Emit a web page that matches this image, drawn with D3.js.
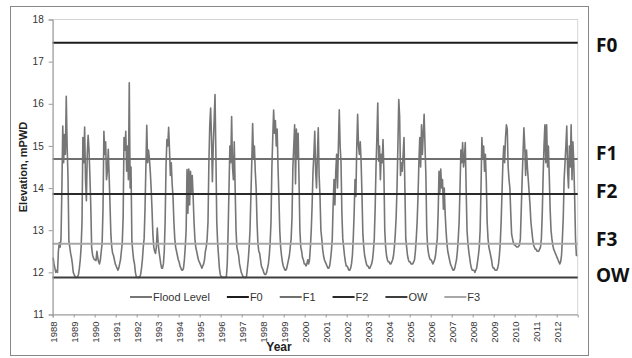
<!DOCTYPE html>
<html>
<head>
<meta charset="utf-8">
<script src="https://cdn.jsdelivr.net/npm/d3@7"></script>
<style>
  body { margin: 0; background: #fff; }
  svg { display: block; font-family: "Liberation Sans", Arial, sans-serif; }
</style>
</head>
<body>
<svg id="chart" width="632" height="358"></svg>
<script>
// Year labels on the x axis
const yearTicks = ["1988","1989","1990","1991","1992","1993","1994","1995","1996","1997","1998","1999",
  "2000","2001","2002","2003","2004","2005","2006","2007","2008","2009","2010","2011","2012"];

// Reference levels (mPWD)
const refNames = ["F0", "F1", "F2", "OW", "F3"];
const refValues = [17.45, 14.69, 13.86, 11.88, 12.68];

// Flood level, semi-monthly readings, one row per year 1988..2012
const floodYears = [1988,1989,1990,1991,1992,1993,1994,1995,1996,1997,1998,1999,
  2000,2001,2002,2003,2004,2005,2006,2007,2008,2009,2010,2011,2012];
const floodLevel = [
  [12.35,12.2,12.1,12.0,12.05,12.0,12.5,12.7,12.6,12.8,14.0,15.47,14.6,15.27,14.8,16.18,15.0,14.25,12.74,12.6,12.45,12.35,12.2,12.0],
  [11.95,11.9,11.88,11.88,11.9,11.95,12.1,12.3,12.6,13.2,15.2,14.6,15.45,14.2,13.7,14.8,15.25,14.9,14.3,13.6,12.6,12.42,12.35,12.3],
  [12.3,12.28,12.5,12.35,12.25,12.2,12.3,12.5,12.7,13.5,15.35,14.8,15.1,14.2,14.4,14.92,14.3,13.6,12.9,12.6,12.45,12.4,12.3,12.2],
  [12.15,12.1,12.05,12.1,12.2,12.3,12.5,12.7,13.3,15.2,14.9,15.35,14.4,15.0,14.2,16.5,14.0,14.5,12.74,12.5,12.3,12.2,12.0,11.9],
  [11.88,11.88,11.88,11.9,11.95,12.1,12.3,12.6,12.8,13.5,14.5,15.49,14.6,14.9,14.7,14.4,14.0,13.5,12.9,12.6,12.5,12.45,12.6,13.05],
  [12.7,12.5,12.35,12.2,12.1,12.1,12.2,12.5,13.2,14.5,15.15,15.0,15.44,14.9,14.3,14.6,14.1,13.8,13.2,12.8,12.6,12.5,12.4,12.3],
  [12.25,12.15,12.1,12.05,12.05,12.1,12.3,12.6,13.0,14.44,13.4,14.45,13.6,14.4,13.9,14.3,13.8,13.2,12.8,12.6,12.5,12.4,12.3,12.25],
  [12.2,12.15,12.1,12.15,12.2,12.3,12.5,12.6,12.8,13.2,14.6,15.5,15.9,15.2,14.15,15.0,15.6,16.22,14.8,13.2,12.7,12.4,12.1,11.95],
  [11.9,11.88,11.88,11.88,11.88,11.88,11.9,12.2,13.0,14.0,15.0,14.6,15.7,14.5,14.2,15.1,14.0,13.0,12.6,12.5,12.4,12.2,12.1,12.0],
  [11.95,11.9,11.88,11.88,11.88,11.9,12.1,12.3,12.6,13.0,13.8,14.6,15.53,14.7,15.0,14.4,14.0,13.2,12.7,12.5,12.45,12.3,12.15,12.1],
  [12.05,11.98,11.95,11.95,12.0,12.1,12.2,12.4,12.7,13.2,14.5,15.2,15.85,15.3,15.6,15.0,15.4,14.5,13.8,13.0,12.6,12.4,12.25,12.15],
  [12.1,12.05,12.05,12.1,12.2,12.3,12.4,12.6,12.8,13.3,14.5,15.0,15.5,14.1,15.4,14.7,15.3,14.2,13.0,12.6,12.5,12.35,12.3,12.2],
  [12.2,12.15,12.2,12.3,12.2,12.3,12.6,13.0,13.6,14.4,14.8,15.35,14.4,14.0,14.8,15.43,14.3,13.8,13.0,12.8,12.55,12.4,12.3,12.25],
  [12.2,12.15,12.1,12.1,12.15,12.3,12.5,12.8,13.6,14.2,13.6,14.4,14.8,14.0,15.0,15.86,15.0,14.6,13.4,12.8,12.6,12.4,12.25,12.15],
  [12.15,12.1,12.05,12.05,12.1,12.2,12.4,12.8,13.4,14.2,13.8,15.0,15.75,15.0,14.8,15.1,14.6,13.8,12.9,12.6,12.4,12.3,12.2,12.15],
  [12.15,12.1,12.1,12.15,12.2,12.3,12.5,12.8,13.5,14.5,15.2,16.02,14.64,15.0,14.2,14.8,14.6,15.15,14.4,13.0,12.6,12.4,12.3,12.25],
  [12.25,12.2,12.2,12.25,12.3,12.4,12.6,12.9,13.3,14.0,15.0,16.1,15.7,14.3,14.6,14.4,14.8,15.2,14.0,12.8,12.6,12.4,12.3,12.25],
  [12.25,12.2,12.2,12.2,12.25,12.3,12.5,12.8,13.2,13.8,14.6,15.2,14.5,15.5,14.8,15.3,15.75,15.0,14.3,13.0,12.6,12.45,12.35,12.3],
  [12.3,12.25,12.2,12.25,12.3,12.4,12.6,12.8,13.4,14.4,13.9,14.45,14.0,14.2,13.5,14.0,13.4,13.0,12.7,12.5,12.4,12.3,12.2,12.15],
  [12.1,12.05,12.05,12.1,12.2,12.3,12.5,12.8,13.2,14.0,14.9,14.6,15.08,14.5,14.7,15.08,14.0,13.0,12.7,12.5,12.35,12.2,12.1,12.05],
  [12.05,12.05,12.0,12.05,12.1,12.25,12.4,12.6,13.0,14.0,15.2,14.7,15.0,14.4,14.8,14.2,13.2,12.8,12.6,12.5,12.4,12.3,12.15,12.1],
  [12.1,12.05,12.05,12.05,12.1,12.2,12.4,12.7,13.2,13.9,14.6,15.0,14.6,15.2,15.5,15.4,14.5,14.2,14.0,13.4,12.9,12.8,12.7,12.65],
  [12.65,12.62,12.6,12.6,12.62,12.65,12.8,13.5,14.2,14.8,15.43,15.0,14.3,14.9,14.5,14.2,13.9,13.6,13.2,13.0,12.8,12.65,12.6,12.55],
  [12.55,12.5,12.5,12.5,12.55,12.6,12.8,13.4,14.3,15.0,15.5,14.6,15.5,14.5,15.0,14.3,13.5,13.0,12.8,12.65,12.55,12.5,12.45,12.4],
  [12.35,12.3,12.25,12.2,12.25,12.4,12.8,13.3,14.2,14.6,15.0,15.47,14.4,14.0,15.0,14.5,15.5,14.2,15.1,14.6,13.8,12.8,12.4,12.4]
];

// Legend order (as in the spreadsheet series order)
const legendNames = ["Flood Level", "F0", "F1", "F2", "OW", "F3"];

const colors = {
  "Flood Level": "#767676",
  "F0": "#1c1c1c",
  "F1": "#707070",
  "F2": "#2a2a2a",
  "OW": "#3e3e3e",
  "F3": "#a8a8a8"
};

const svg = d3.select("#chart");
const plot = { left: 52.7, right: 577.7, top: 19.5, bottom: 314.5 };

// Outer chart frame
svg.append("rect")
  .attr("x", 10.5).attr("y", 6.5)
  .attr("width", 578).attr("height", 349)
  .attr("fill", "#fff")
  .attr("stroke", "#888").attr("stroke-width", 1);

const x = d3.scaleLinear().domain([1988, 2013]).range([plot.left, plot.right]);
const y = d3.scaleLinear().domain([11, 18]).range([plot.bottom, plot.top]);

// Plot area border
svg.append("rect")
  .attr("x", plot.left).attr("y", plot.top)
  .attr("width", plot.right - plot.left).attr("height", plot.bottom - plot.top)
  .attr("fill", "none").attr("stroke", "#d4d4d4").attr("stroke-width", 1);

// Flood level points
const points = [];
floodLevel.forEach((row, i) => {
  row.forEach((v, k) => points.push({ t: floodYears[i] + (k + 0.5) / 24, v: v }));
});

const line = d3.line().x(d => x(d.t)).y(d => y(d.v));
svg.append("path")
  .datum(points)
  .attr("fill", "none")
  .attr("stroke", colors["Flood Level"])
  .attr("stroke-width", 1.6)
  .attr("stroke-linejoin", "round")
  .attr("d", line);

// Reference level lines, drawn on top
svg.append("g")
  .selectAll("line")
  .data(refNames)
  .join("line")
  .attr("x1", plot.left).attr("x2", plot.right)
  .attr("y1", (d, i) => y(refValues[i]))
  .attr("y2", (d, i) => y(refValues[i]))
  .attr("stroke", d => colors[d])
  .attr("stroke-width", 2);

// Y axis
const yAxis = svg.append("g")
  .attr("transform", `translate(${plot.left},0)`)
  .call(d3.axisLeft(y).tickValues(d3.range(11, 19)).tickFormat(d3.format("d")).tickSize(4).tickPadding(5));
yAxis.select(".domain").attr("stroke", "#999");
yAxis.selectAll(".tick line").attr("stroke", "#999");
yAxis.selectAll("text").attr("font-size", 10).attr("fill", "#333");

// X axis
const xAxis = svg.append("g")
  .attr("transform", `translate(0,${plot.bottom})`)
  .call(d3.axisBottom(x).tickValues(yearTicks.map(Number)).tickFormat(d3.format("d")).tickSize(3));
xAxis.select(".domain").attr("stroke", "#999");
xAxis.selectAll(".tick line").attr("stroke", "#999");
xAxis.selectAll("text")
  .attr("font-size", 9.5)
  .attr("fill", "#333")
  .attr("transform", "rotate(-90)")
  .attr("text-anchor", "end")
  .attr("x", -7)
  .attr("y", 0)
  .attr("dy", "0.35em");

// Axis titles
svg.append("text")
  .attr("x", 279).attr("y", 351)
  .attr("text-anchor", "middle")
  .attr("font-size", 12).attr("font-weight", "bold").attr("fill", "#222")
  .text("Year");

svg.append("text")
  .attr("transform", "translate(27,167) rotate(-90)")
  .attr("text-anchor", "middle")
  .attr("font-size", 11).attr("font-weight", "bold").attr("fill", "#222")
  .text("Elevation, mPWD");

// Legend
const legend = svg.append("g").attr("transform", "translate(130,297)");
let lx = 0;
legendNames.forEach(name => {
  legend.append("line")
    .attr("x1", lx).attr("x2", lx + 22)
    .attr("y1", 0).attr("y2", 0)
    .attr("stroke", colors[name])
    .attr("stroke-width", 2);
  const t = legend.append("text")
    .attr("x", lx + 23).attr("y", 0).attr("dy", "0.35em")
    .attr("font-size", 11).attr("fill", "#333")
    .text(name);
  lx += 23 + t.node().getComputedTextLength() + 17;
});

// Right-side level labels
const rightLabelY = [45, 153, 191, 275, 239];
svg.append("g")
  .selectAll("text")
  .data(refNames)
  .join("text")
  .attr("x", 596)
  .attr("y", (d, i) => rightLabelY[i])
  .attr("dy", "0.35em")
  .attr("font-family", "'Open Sans', sans-serif")
  .attr("font-size", 19).attr("font-weight", "bold").attr("fill", "#111")
  .text(d => d);
</script>
</body>
</html>
